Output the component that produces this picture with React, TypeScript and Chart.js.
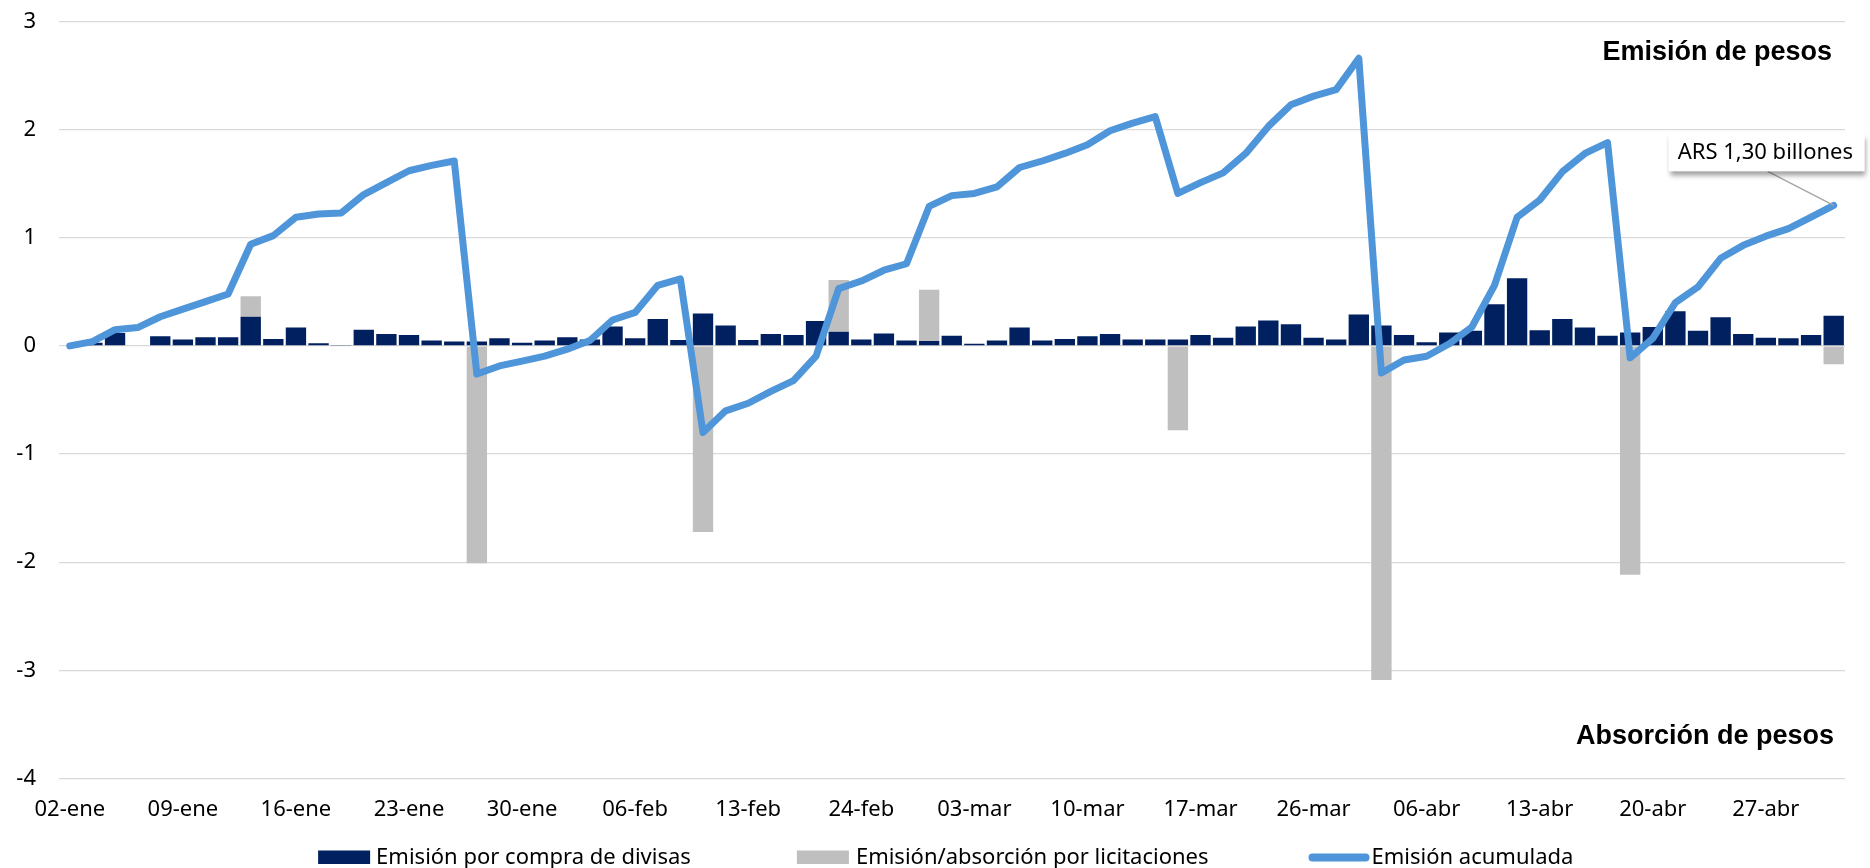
import React, { useEffect, useRef } from "react";
import { Chart, registerables } from "chart.js";

Chart.register(...registerables);

// Días hábiles 2026 (ene–abr)
const fechas: string[] = [
  "02-ene", "05-ene", "06-ene", "07-ene", "08-ene", "09-ene", "12-ene", "13-ene", "14-ene", "15-ene",
  "16-ene", "19-ene", "20-ene", "21-ene", "22-ene", "23-ene", "26-ene", "27-ene", "28-ene", "29-ene",
  "30-ene", "02-feb", "03-feb", "04-feb", "05-feb", "06-feb", "09-feb", "10-feb", "11-feb", "12-feb",
  "13-feb", "18-feb", "19-feb", "20-feb", "23-feb", "24-feb", "25-feb", "26-feb", "27-feb", "02-mar",
  "03-mar", "04-mar", "05-mar", "06-mar", "09-mar", "10-mar", "11-mar", "12-mar", "13-mar", "16-mar",
  "17-mar", "18-mar", "19-mar", "20-mar", "25-mar", "26-mar", "27-mar", "30-mar", "31-mar", "01-abr",
  "06-abr", "07-abr", "08-abr", "09-abr", "10-abr", "13-abr", "14-abr", "15-abr", "16-abr", "17-abr",
  "20-abr", "21-abr", "22-abr", "23-abr", "24-abr", "27-abr", "28-abr", "29-abr", "30-abr",
];

// Una etiqueta de fecha cada cinco ruedas
const pasoEtiquetas = 5;

// Emisión por compra de divisas (billones de pesos)
const compraDivisas: number[] = [
  0.0, 0.03, 0.12, 0.0, 0.09, 0.06, 0.08, 0.08, 0.27, 0.065,
  0.17, 0.025, 0.005, 0.15, 0.11, 0.1, 0.05, 0.04, 0.04, 0.07,
  0.03, 0.05, 0.08, 0.06, 0.18, 0.07, 0.25, 0.055, 0.3, 0.19,
  0.055, 0.11, 0.1, 0.23, 0.13, 0.06, 0.115, 0.05, 0.045, 0.095,
  0.02, 0.05, 0.17, 0.05, 0.065, 0.09, 0.11, 0.06, 0.06, 0.06,
  0.1, 0.075, 0.18, 0.235, 0.2, 0.075, 0.06, 0.29, 0.19, 0.1,
  0.035, 0.125, 0.14, 0.385, 0.625, 0.145, 0.25, 0.17, 0.095, 0.125,
  0.175, 0.32, 0.14, 0.265, 0.11, 0.075, 0.07, 0.1, 0.28,
];

// Emisión / absorción por licitaciones (sólo los días con licitación)
const licitaciones: (number | null)[] = [
  null, null, null, null, null, null, null, null, 0.19, null,
  null, null, null, null, null, null, null, null, -2.01, null,
  null, null, null, null, null, null, null, null, -1.72, null,
  null, null, null, null, 0.48, null, null, null, 0.475, null,
  null, null, null, null, null, null, null, null, null, -0.78,
  null, null, null, null, null, null, null, null, -3.09, null,
  null, null, null, null, null, null, null, null, null, -2.115,
  null, null, null, null, null, null, null, null, -0.17,
];

// Emisión acumulada
const emisionAcumulada: number[] = [
  0.0, 0.04, 0.15, 0.17, 0.27, 0.34, 0.41, 0.48, 0.94, 1.02,
  1.19, 1.22, 1.23, 1.4, 1.51, 1.62, 1.67, 1.71, -0.26, -0.185,
  -0.14, -0.095, -0.03, 0.05, 0.24, 0.31, 0.56, 0.62, -0.8, -0.6,
  -0.53, -0.42, -0.32, -0.095, 0.53, 0.6, 0.7, 0.76, 1.29, 1.39,
  1.41, 1.47, 1.65, 1.71, 1.78, 1.86, 1.99, 2.06, 2.12, 1.41,
  1.51, 1.6, 1.78, 2.03, 2.23, 2.31, 2.37, 2.66, -0.25, -0.13,
  -0.095, 0.02, 0.175, 0.56, 1.19, 1.35, 1.61, 1.78, 1.88, -0.11,
  0.07, 0.4, 0.545, 0.81, 0.93, 1.015, 1.085, 1.19, 1.3,
];

const ejeMin = -4;
const ejeMax = 3;

const nombreCompra = "Emisión por compra de divisas";
const nombreLicitaciones = "Emisión/absorción por licitaciones";
const nombreAcumulada = "Emisión acumulada";
const textoEmision = "Emisión de pesos";
const textoAbsorcion = "Absorción de pesos";

const AZUL_OSCURO = "#002060";
const GRIS = "#BFBFBF";
const CELESTE = "#4E95D9";
const FUENTE = "'Noto Sans', 'Liberation Sans', Arial, sans-serif";
const FUENTE_TITULO = "'Liberation Sans', Arial, sans-serif";

const formatoBillones = (v: number) => `ARS ${v.toFixed(2).replace(".", ",")} billones`;

// Rótulos "Emisión / Absorción de pesos" y la llamada del último valor acumulado
const rotulos = {
  id: "rotulos",
  afterDraw(chart: any) {
    const { ctx, chartArea, scales } = chart;
    ctx.save();
    ctx.fillStyle = "#000";
    ctx.font = `bold 27px ${FUENTE_TITULO}`;
    ctx.textAlign = "right";
    ctx.textBaseline = "alphabetic";
    ctx.fillText(textoEmision, chartArea.right - 13, chartArea.top + 38);
    ctx.fillText(textoAbsorcion, chartArea.right - 11, chartArea.bottom - 35);

    // llamada sobre el último punto de la serie acumulada
    const ultimo = emisionAcumulada.length - 1;
    const px = scales.x.getPixelForValue(ultimo);
    const py = scales.y.getPixelForValue(emisionAcumulada[ultimo]);
    const w = 196;
    const h = 38;
    const bx = px - 165;
    const by = py - 72;

    ctx.strokeStyle = "#A6A6A6";
    ctx.lineWidth = 1.5;
    ctx.beginPath();
    ctx.moveTo(bx + 99, by + h);
    ctx.lineTo(px, py);
    ctx.stroke();

    ctx.save();
    ctx.shadowColor = "rgba(0,0,0,0.38)";
    ctx.shadowBlur = 5;
    ctx.shadowOffsetX = 1;
    ctx.shadowOffsetY = 5;
    ctx.fillStyle = "#fff";
    ctx.fillRect(bx, by, w, h);
    ctx.restore();

    ctx.fillStyle = "#000";
    ctx.font = `22px ${FUENTE}`;
    ctx.textAlign = "left";
    ctx.fillText(formatoBillones(emisionAcumulada[ultimo]), bx + 9, by + 26);
    ctx.restore();
  },
};

// Leyenda inferior en una fila
const leyenda = {
  id: "leyendaFila",
  afterDraw(chart: any) {
    const { ctx, chartArea } = chart;
    const ds = chart.data.datasets;
    ctx.save();
    ctx.font = `22px ${FUENTE}`;
    ctx.textBaseline = "alphabetic";
    ctx.textAlign = "left";
    const items = [
      { tipo: "caja", color: ds[0].backgroundColor, texto: ds[0].label, marca: 52, hueco: 6, sep: 106 },
      { tipo: "caja", color: ds[1].backgroundColor, texto: ds[1].label, marca: 52, hueco: 7, sep: 100 },
      { tipo: "linea", color: ds[2].borderColor, texto: ds[2].label, marca: 61, hueco: 2, sep: 0 },
    ];
    const anchos = items.map((it) => it.marca + it.hueco + ctx.measureText(it.texto).width);
    const total = anchos.reduce((a, b) => a + b, 0) + items.reduce((a, it) => a + it.sep, 0);
    let x = (chartArea.left + chartArea.right) / 2 - 6 - total / 2;
    const base = chart.height - 4;
    items.forEach((it, i) => {
      if (it.tipo === "caja") {
        ctx.fillStyle = it.color;
        ctx.fillRect(x, base - 13.5, it.marca, 13.5);
      } else {
        ctx.strokeStyle = it.color;
        ctx.lineWidth = 8;
        ctx.lineCap = "round";
        ctx.beginPath();
        ctx.moveTo(x + 4, base - 6.5);
        ctx.lineTo(x + it.marca - 4, base - 6.5);
        ctx.stroke();
      }
      ctx.fillStyle = "#000";
      ctx.fillText(it.texto, x + it.marca + it.hueco, base);
      x += anchos[i] + it.sep;
    });
    ctx.restore();
  },
};

export default function App() {
  const ref = useRef<HTMLCanvasElement | null>(null);

  useEffect(() => {
    const canvas = ref.current;
    if (!canvas) return;
    const chart = new Chart(canvas, {
      type: "bar",
      data: {
        labels: fechas,
        datasets: [
          {
            type: "bar",
            label: nombreCompra,
            data: compraDivisas,
            backgroundColor: AZUL_OSCURO,
            stack: "barras",
            order: 1,
            categoryPercentage: 0.9,
            barPercentage: 1,
          },
          {
            type: "bar",
            label: nombreLicitaciones,
            data: licitaciones,
            backgroundColor: GRIS,
            stack: "barras",
            order: 2,
            categoryPercentage: 0.9,
            barPercentage: 1,
          },
          {
            type: "line",
            label: nombreAcumulada,
            data: emisionAcumulada,
            borderColor: CELESTE,
            backgroundColor: CELESTE,
            borderWidth: 7,
            pointRadius: 0,
            pointHoverRadius: 0,
            tension: 0,
            borderJoinStyle: "round",
            borderCapStyle: "round",
            stack: "acumulada",
            order: 0,
          },
        ] as any,
      },
      options: {
        animation: false,
        responsive: true,
        maintainAspectRatio: false,
        layout: { padding: { top: 21.5, right: 25, bottom: 44.5, left: 0 } },
        plugins: {
          legend: { display: false },
          tooltip: { enabled: false },
        },
        scales: {
          x: {
            stacked: true,
            grid: { display: false, drawTicks: false },
            border: { display: false },
            ticks: {
              autoSkip: false,
              maxRotation: 0,
              minRotation: 0,
              padding: 18,
              color: "#000",
              font: { family: FUENTE, size: 22 },
              callback: (_v: any, i: number) => (i % pasoEtiquetas === 0 ? fechas[i] : ""),
            },
            afterFit: (axis: any) => {
              axis.height = 45;
            },
          },
          y: {
            stacked: true,
            min: ejeMin,
            max: ejeMax,
            grid: { color: "#D9D9D9", lineWidth: 1.3, drawTicks: false },
            border: { display: false },
            ticks: {
              stepSize: 1,
              padding: 22.5,
              color: "#000",
              font: { family: FUENTE, size: 22 },
            },
            afterFit: (axis: any) => {
              axis.width = 58.5;
              axis.paddingTop = 0;
              axis.paddingBottom = 0;
            },
          },
        },
      },
      plugins: [rotulos, leyenda],
    });
    return () => chart.destroy();
  }, []);

  return (
    <div
      style={{
        position: "fixed",
        left: 0,
        top: 0,
        width: "1870px",
        height: "868px",
        background: "#fff",
      }}
    >
      <canvas ref={ref} />
    </div>
  );
}
